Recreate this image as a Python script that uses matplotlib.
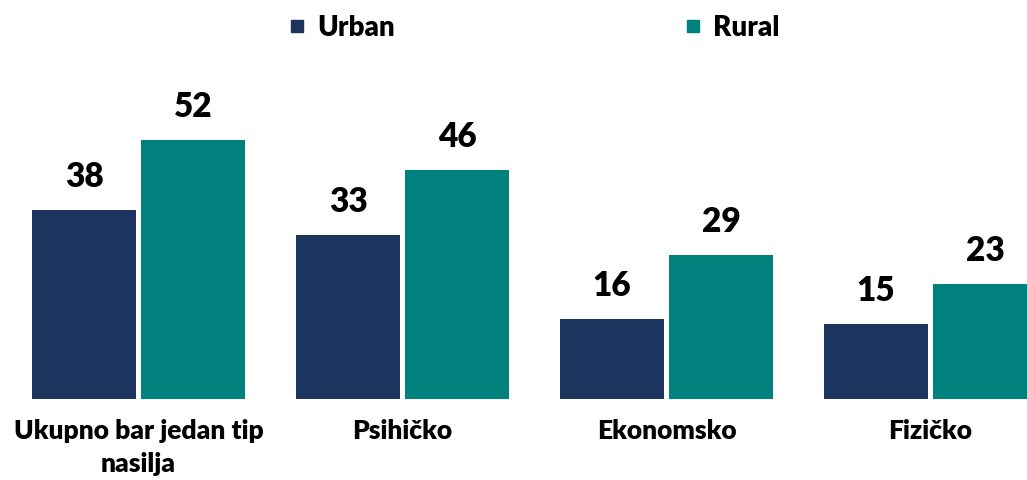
import matplotlib.pyplot as plt
import numpy as np
from matplotlib.lines import Line2D

categories = ["Ukupno bar jedan tip\nnasilja", "Psihičko", "Ekonomsko", "Fizičko"]
urban = [38, 33, 16, 15]
rural = [52, 46, 29, 23]
series_names = ["Urban", "Rural"]

c_urban = "#1c355e"
c_rural = "#00817e"

plt.rcParams['font.family'] = ['Lato', 'DejaVu Sans']

fig = plt.figure(figsize=(10.27, 4.81), dpi=100)
ax = fig.add_axes([6.5 / 1027, 81 / 481, 1 - 6.5 / 1027, 340 / 481])

x = np.arange(len(categories))
w = 0.394
off = 0.206
b1 = ax.bar(x - off, urban, w, color=c_urban)
b2 = ax.bar(x + off, rural, w, color=c_rural)

for bars, vals in [(b1, urban), (b2, rural)]:
    for b, v in zip(bars, vals):
        ax.annotate(str(v), (b.get_x() + b.get_width() / 2, v), xytext=(0, 13),
                    textcoords="offset points", ha="center", va="bottom",
                    fontsize=24, fontweight="heavy")

ax.set_xlim(-0.5, (1027 - 138.5) / 264)
ax.set_ylim(0, 340 / 4.98)
ax.set_xticks(x)
ax.set_xticklabels(categories, fontsize=19, fontweight="heavy", linespacing=1.45)
ax.tick_params(axis="x", length=0, pad=14)
ax.set_yticks([])
for s in ax.spines.values():
    s.set_visible(False)

handles = [Line2D([], [], marker="s", linestyle="none", markersize=9, color=c)
           for c in (c_urban, c_rural)]
fig.legend(handles, series_names, loc="upper center", bbox_to_anchor=(532 / 1027, 1.02),
           ncol=2, frameon=False, prop={"size": 20, "weight": "heavy"},
           columnspacing=10.3, handletextpad=0.25, handlelength=0.9)

fig.savefig("out.png", dpi=100)
